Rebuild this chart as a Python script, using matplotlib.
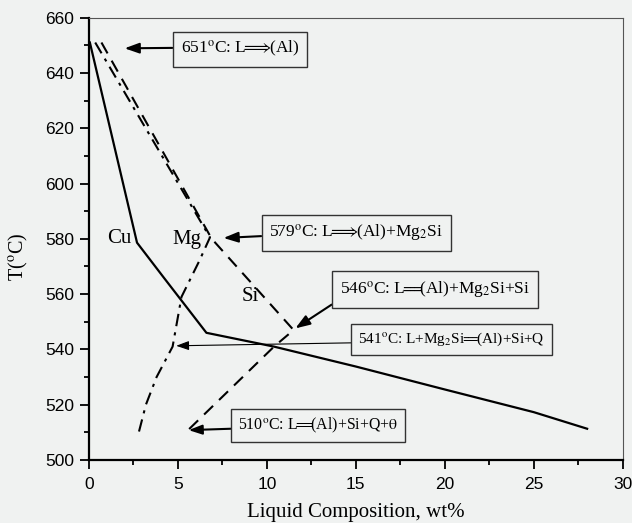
import numpy as np
import matplotlib
matplotlib.use('Agg')
import matplotlib.pyplot as plt

# Daten
cu_x = [0.05, 2.7, 4.2, 6.6, 10.4, 15.0, 20.0, 25.0, 28.0]
cu_T = [651, 578.6, 566, 546, 541, 533.8, 525.5, 517.3, 511.3]

mg_x = [0.35, 6.8, 6.2, 5.2, 4.7, 3.8, 3.2, 2.8]
mg_T = [651, 580.5, 572, 559, 541, 530, 520, 510]

si_x = [0.7, 6.9, 11.5, 10.4, 5.6]
si_T = [651, 580, 547, 541, 511]

# Reaktionen: Text, Boxmitte, Pfeilspitze, Ansatzpunkt, Linienbreite, Schriftgroesse
pfeil = r"$\!\!\Longrightarrow\!\!$"
gleich = r"$\!\!=\!\!\!\!\!=\!\!$"
reak_text = ["651$^\\mathrm{o}$C: L" + pfeil + "(Al)",
             "579$^\\mathrm{o}$C: L" + pfeil + "(Al)+Mg$_2$Si",
             "546$^\\mathrm{o}$C: L" + gleich + "(Al)+Mg$_2$Si+Si",
             "541$^\\mathrm{o}$C: L+Mg$_2$Si" + gleich + "(Al)+Si+Q",
             "510$^\\mathrm{o}$C: L" + gleich + "(Al)+Si+Q+$\\mathrm{\\theta}$"]
reak_box = [(8.49, 648.5), (15.03, 582.1), (19.45, 561.7), (20.38, 543.6), (12.89, 512.5)]
reak_pfeil = [(2.0, 648.9), (7.56, 580.3), (11.6, 547.6), (4.9, 541.3), (5.6, 510.8)]
reak_rel = [(0, 0.58), (0, 0.37), (0, 0.03), (0, 0.31), (0, 0.34)]
reak_lw = [1.5, 1.5, 1.5, 0.8, 1.5]
reak_fs = [12.5, 12.5, 12.5, 11, 11.4]

element = ['Cu', 'Mg', 'Si']
element_pos = [(1.72, 580), (5.5, 579.6), (9.05, 559.1)]

bg = '#f0f2f1'
plt.rcParams['mathtext.fontset'] = 'stix'

fig = plt.figure(figsize=(6.32, 5.23), dpi=100, facecolor=bg)
ax = fig.add_axes([0.1408, 0.1205, 0.8445, 0.8458], facecolor=bg)

ax.plot(cu_x, cu_T, '-', color='black', lw=1.6)
ax.plot(mg_x, mg_T, color='black', lw=1.5, dashes=(6, 3, 1.5, 3))
ax.plot(si_x, si_T, color='black', lw=1.5, dashes=(6, 4))

for t, p in zip(element, element_pos):
    ax.text(p[0], p[1], t, fontsize=15, family='Liberation Serif', ha='center', va='center')

for t, b, h, r, lw, fs in zip(reak_text, reak_box, reak_pfeil, reak_rel, reak_lw, reak_fs):
    ax.annotate(t, xy=h, xytext=b, ha='center', va='center',
                fontsize=fs, family='Liberation Serif',
                bbox=dict(boxstyle='square,pad=0.45', fc=bg, ec='#333333', lw=1.0),
                arrowprops=dict(arrowstyle='-|>,head_length=0.7,head_width=0.25',
                                color='black', lw=lw, relpos=r, shrinkA=0, shrinkB=0))

ax.set_xlim(0, 30)
ax.set_ylim(500, 660)
ax.set_xticks(np.arange(0, 31, 5))
ax.set_xticks(np.arange(0, 31, 2.5), minor=True)
ax.set_yticks(np.arange(500, 661, 20))
ax.set_yticks(np.arange(500, 661, 10), minor=True)
ax.tick_params(which='both', direction='out', width=1.3, labelsize=12.5)
ax.tick_params(which='major', length=6.5)
ax.tick_params(which='minor', length=3.8)
ax.tick_params(axis='y', which='major', pad=4)
ax.tick_params(axis='x', which='major', pad=5.5)
for lab in ax.get_xticklabels() + ax.get_yticklabels():
    lab.set_family('Liberation Sans')

ax.spines['left'].set_linewidth(1.6)
ax.spines['bottom'].set_linewidth(1.6)
ax.spines['top'].set_linewidth(0.8)
ax.spines['right'].set_linewidth(0.8)
ax.spines['top'].set_color('#555555')
ax.spines['right'].set_color('#555555')

ax.set_xlabel('Liquid Composition, wt%', fontsize=15, family='Liberation Serif', labelpad=8)
ax.set_ylabel(r'T($^\mathrm{o}$C)', fontsize=14.5, family='Liberation Serif')
ax.yaxis.set_label_coords(-0.11, 0.46)

fig.savefig('out.png', dpi=100, facecolor=bg)
